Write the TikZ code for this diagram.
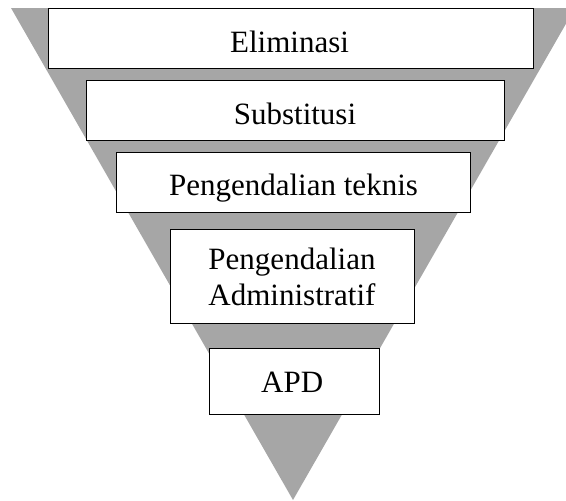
\documentclass[tikz,border=0pt]{standalone}
\usepackage{fontspec}
\setmainfont{Liberation Serif}
\begin{document}
\begin{tikzpicture}[x=1pt,y=-1pt,
  funnel/.style={fill=funnelgray,draw=none},
  levelbox/.style={draw=black,line width=1pt,fill=white,inner sep=0pt,anchor=north west},
  lbl/.style={inner sep=0pt,anchor=base,font=\fontsize{31}{36}\selectfont}]
\definecolor{funnelgray}{RGB}{166,166,166}
\useasboundingbox (0,0) rectangle (566,501);
% inverted triangle
\coordinate (tl) at (11,8);
\coordinate (tr) at (575,8);
\coordinate (apex) at (293,500);
\fill[funnel] (tl) -- (tr) -- (apex) -- cycle;
% boxes
\node[levelbox,minimum width=485pt,minimum height=60.5pt] (b1) at (48,7.5) {};
\node[levelbox,minimum width=418pt,minimum height=60pt] (b2) at (86,80) {};
\node[levelbox,minimum width=354pt,minimum height=60pt] (b3) at (116,152) {};
\node[levelbox,minimum width=244pt,minimum height=94pt] (b4) at (170,229) {};
\node[levelbox,minimum width=170pt,minimum height=66pt] (b5) at (209,348) {};
% labels
\node[lbl] (t1) at (289.5,52.3) {Eliminasi};
\node[lbl] (t2) at (295,124.5) {Substitusi};
\node[lbl] (t3) at (293.5,195.5) {Pengendalian teknis};
\node[lbl] (t4a) at (292,269.5) {Pengendalian};
\node[lbl] (t4b) at (292,305.5) {Administratif};
\node[lbl] (t5) at (292.2,392.3) {APD};
\end{tikzpicture}
\end{document}
